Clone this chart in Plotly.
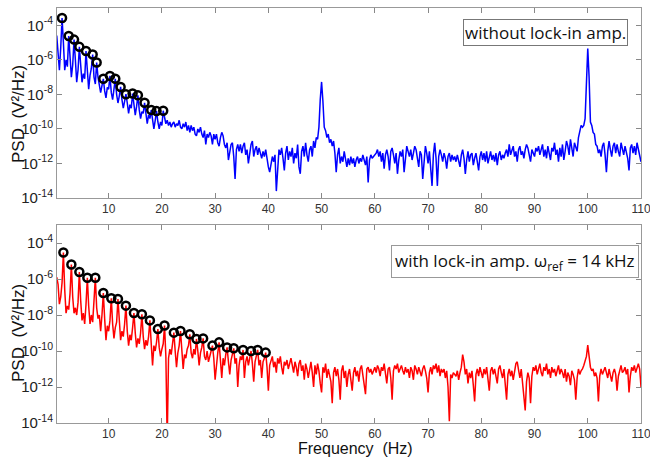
import numpy as np
import plotly.graph_objects as go

# frequency grid (Hz): 0.25 Hz resolution, 0.25 .. 110
freq_step = 0.25
n_points = 440
freq = np.arange(1, n_points + 1) * freq_step

# log10 of PSD (V^2/Hz) without lock-in amplifier (blue)
blue_log_psd = [
    -4.6, -5.6, -6.6, -5.3, -3.58, -5.0, -6.6, -6.0, -6.4, -4.62, -6.2, -7.0, -6.3, -4.83, -6.0, -7.3, -6.6, -5.25, -6.3, -7.3,
    -6.8, -7.1, -5.49, -6.7, -7.7, -6.9, -6.5, -5.69, -7.0, -7.4, -6.16, -7.0, -7.6, -7.9, -7.5, -7.10, -7.8, -8.2, -7.6, -7.7,
    -6.93, -7.9, -8.3, -7.8, -7.10, -8.0, -8.5, -8.1, -7.57, -8.3, -8.8, -8.4, -7.99, -8.5, -9.1, -8.6, -8.8, -7.95, -8.8, -9.2,
    -8.7, -8.05, -8.9, -9.4, -9.0, -9.1, -8.49, -9.2, -9.7, -9.2, -9.4, -8.91, -9.6, -10.0, -9.5, -8.97, -9.6, -10.0, -9.6, -9.8,
    -8.95, -9.4, -9.7, -9.5, -9.8, -9.6, -9.9, -9.7, -9.6, -9.9, -9.7, -9.8, -9.5, -9.9, -10.0, -9.7, -9.9, -9.6, -10.1, -9.8,
    -10.2, -9.8, -10.1, -9.9, -10.3, -10.4, -10.0, -10.2, -9.9, -10.3, -10.5, -10.1, -10.9, -10.3, -10.5, -10.2, -10.4, -10.9, -10.3, -10.6,
    -10.3, -10.8, -11.0, -10.5, -10.2, -10.4, -10.9, -11.1, -10.8, -11.8, -11.3, -10.9, -10.8, -11.6, -12.9, -11.2, -10.9, -11.3, -10.9, -11.4,
    -11.0, -10.8, -11.5, -11.2, -12.0, -11.4, -10.9, -10.7, -11.6, -11.2, -11.0, -11.5, -11.1, -11.4, -11.7, -11.3, -11.6, -11.2, -11.8, -12.2,
    -12.5, -11.9, -11.6, -11.9, -11.5, -13.6, -12.0, -11.2, -11.5, -11.1, -11.7, -12.4, -11.4, -11.0, -11.8, -11.3, -11.6, -11.1, -12.0, -11.4,
    -11.7, -10.9, -12.2, -12.6, -11.3, -11.0, -11.6, -10.8, -11.5, -11.9, -11.2, -11.0, -11.6, -10.7, -11.1, -10.5, -10.6, -9.9, -8.3, -7.28,
    -8.4, -9.9, -10.1, -10.5, -10.3, -10.8, -10.6, -11.0, -10.7, -11.4, -12.5, -11.5, -11.1, -12.0, -11.6, -11.9, -11.3, -11.8, -12.2, -11.7,
    -12.1, -11.6, -12.0, -11.7, -12.2, -11.8, -11.6, -12.0, -11.7, -11.9, -11.5, -11.8, -12.1, -11.6, -13.1, -11.8, -11.5, -11.7, -11.6, -11.5,
    -11.4, -11.2, -11.6, -11.3, -11.9, -11.4, -12.3, -11.5, -11.2, -11.6, -12.4, -11.3, -11.1, -11.5, -12.0, -11.4, -12.6, -11.8, -11.3, -11.6,
    -11.2, -12.5, -11.5, -11.0, -11.3, -11.6, -11.2, -11.8, -11.4, -11.0, -11.2, -11.7, -12.2, -11.3, -11.5, -12.9, -11.6, -11.0, -11.4, -12.0,
    -11.3, -12.2, -13.3, -11.5, -10.8, -11.7, -13.3, -11.6, -11.2, -11.5, -11.9, -11.4, -11.7, -12.3, -11.6, -11.4, -11.9, -11.5, -11.8, -11.6,
    -11.9, -11.5, -11.8, -12.2, -11.5, -11.2, -11.7, -12.6, -11.8, -11.3, -11.9, -11.5, -11.4, -12.1, -11.7, -11.4, -11.9, -12.4, -11.6, -11.3,
    -11.8, -11.4, -11.9, -11.3, -12.0, -11.6, -11.3, -11.8, -11.5, -11.9, -11.4, -12.1, -11.5, -11.3, -11.8, -11.5, -11.7, -11.4, -11.2, -11.6,
    -10.9, -11.5, -11.3, -11.0, -11.6, -11.3, -11.9, -11.2, -11.0, -11.5, -11.3, -11.7, -11.2, -10.9, -11.1, -11.6, -11.9, -11.2, -11.4, -11.6,
    -11.1, -11.3, -11.0, -11.5, -11.2, -10.9, -11.6, -11.2, -11.7, -11.0, -11.4, -11.8, -11.1, -11.3, -10.8, -11.5, -11.2, -11.9, -11.1, -11.6,
    -10.9, -11.8, -11.3, -10.7, -11.0, -11.5, -10.6, -11.2, -11.6, -10.8, -11.0, -11.3, -10.5, -10.1, -9.8, -9.9, -9.8, -9.4, -7.0, -5.35,
    -7.0, -9.6, -9.8, -10.2, -10.3, -10.9, -11.0, -11.4, -11.2, -11.6, -11.0, -10.8, -11.5, -12.5, -11.3, -10.7, -11.2, -11.6, -11.0, -10.8,
    -11.4, -10.9, -11.3, -11.6, -10.8, -11.2, -11.5, -11.0, -11.3, -11.7, -12.4, -11.1, -10.9, -11.4, -11.0, -11.5, -10.8, -11.2, -11.6, -11.9,
]

# log10 of PSD (V^2/Hz) with lock-in amplifier (red)
red_log_psd = [
    -5.9, -6.3, -7.4, -7.0, -6.2, -4.53, -6.6, -7.9, -7.5, -7.7, -6.8, -5.19, -7.0, -7.9, -7.6, -8.0, -7.3, -5.61, -7.2, -8.3,
    -7.9, -8.5, -7.4, -5.93, -7.5, -8.5, -8.0, -8.4, -7.2, -5.93, -7.6, -8.2, -8.0, -8.9, -8.0, -6.78, -8.2, -9.4, -8.6, -8.9,
    -8.3, -7.07, -8.5, -9.3, -8.7, -8.4, -7.11, -8.6, -9.4, -8.9, -9.2, -8.5, -7.48, -8.9, -9.7, -9.1, -9.4, -8.7, -7.89, -9.0,
    -9.8, -9.3, -9.6, -9.0, -7.96, -9.2, -9.9, -9.4, -9.7, -9.2, -8.30, -9.6, -10.8, -9.7, -10.0, -9.5, -8.78, -9.8, -10.3, -9.9,
    -9.6, -8.58, -10.3, -15.0, -10.4, -9.9, -10.2, -9.6, -8.98, -10.0, -10.9, -10.1, -9.7, -8.89, -10.0, -11.0, -10.2, -10.4, -9.9, -9.7,
    -9.07, -10.1, -10.4, -9.9, -10.2, -9.33, -10.0, -10.8, -10.1, -9.8, -9.30, -10.3, -10.5, -10.0, -10.6, -10.2, -10.0, -9.70, -10.4, -11.6,
    -10.6, -10.1, -9.52, -10.5, -11.5, -10.4, -10.8, -10.2, -9.80, -10.6, -11.3, -10.5, -10.2, -9.85, -10.7, -10.4, -12.0, -10.8, -10.3, -10.5,
    -9.94, -11.5, -10.6, -10.3, -10.8, -10.4, -10.0, -10.7, -11.7, -10.6, -10.3, -9.94, -10.8, -10.5, -11.5, -10.6, -10.4, -10.09, -10.9, -12.2,
    -10.8, -10.5, -10.3, -10.9, -10.6, -11.2, -10.4, -10.7, -10.3, -10.9, -11.3, -10.6, -10.8, -10.5, -11.0, -10.7, -10.4, -10.8, -11.2, -10.6,
    -10.9, -11.4, -10.7, -10.5, -11.1, -10.8, -11.6, -10.7, -11.0, -11.5, -10.9, -10.6, -11.2, -12.0, -10.8, -11.3, -10.7, -11.1, -11.8, -12.3,
    -10.9, -11.2, -10.7, -11.5, -11.0, -11.3, -11.7, -12.9, -11.2, -10.9, -11.4, -11.0, -11.6, -12.7, -11.1, -10.8, -11.5, -11.1, -12.0, -11.3,
    -11.0, -11.6, -12.2, -11.2, -10.9, -11.4, -11.1, -11.7, -11.0, -10.8, -11.3, -11.9, -12.4, -11.0, -10.9, -11.2, -11.0, -11.3, -11.1, -10.9,
    -11.2, -10.8, -11.0, -11.4, -10.9, -11.1, -10.7, -11.3, -11.8, -11.0, -10.9, -11.5, -12.7, -11.1, -10.8, -11.0, -10.7, -11.2, -11.0, -10.8,
    -11.1, -11.3, -10.9, -11.2, -11.0, -11.5, -10.9, -11.1, -11.6, -10.8, -11.0, -11.3, -10.9, -11.2, -11.4, -11.0, -10.8, -11.1, -11.5, -12.3,
    -11.2, -10.9, -11.3, -10.8, -11.0, -10.7, -11.2, -10.8, -11.4, -11.0, -11.2, -11.0, -11.5, -11.1, -12.0, -13.9, -11.3, -11.5, -11.2, -11.3,
    -11.4, -11.1, -11.6, -11.2, -10.9, -10.2, -10.6, -11.3, -11.0, -11.8, -11.2, -11.5, -11.1, -11.9, -12.8, -11.3, -11.0, -11.4, -10.9, -11.2,
    -11.5, -11.0, -11.3, -10.9, -11.6, -12.2, -11.1, -10.9, -11.3, -11.0, -11.4, -11.8, -11.0, -10.8, -11.2, -11.5, -11.0, -11.9, -12.7, -11.3,
    -11.0, -11.4, -11.1, -11.6, -11.0, -10.7, -10.6, -11.2, -11.5, -11.0, -11.8, -12.3, -13.3, -11.7, -11.2, -11.5, -12.9, -11.4, -10.9, -11.1,
    -10.8, -11.3, -11.0, -10.7, -11.2, -11.4, -10.9, -11.1, -10.7, -11.3, -11.0, -11.5, -10.9, -11.2, -11.0, -11.4, -11.1, -10.8, -11.3, -11.0,
    -11.2, -11.5, -11.0, -11.7, -11.2, -11.4, -11.9, -11.1, -11.3, -11.6, -12.7, -11.5, -11.0, -11.3, -11.1, -11.0, -10.8, -10.6, -10.3, -9.67,
    -10.4, -10.9, -11.1, -11.0, -11.4, -11.2, -11.5, -12.8, -11.4, -11.0, -11.3, -11.1, -10.9, -11.2, -11.5, -11.0, -11.3, -11.7, -11.2, -11.0,
    -11.3, -12.2, -11.4, -11.0, -10.8, -11.2, -11.1, -10.9, -11.3, -11.0, -12.3, -11.4, -10.9, -11.1, -10.8, -11.2, -11.0, -10.7, -11.0, -12.0,
]

# harmonic peaks marked with circles (frequency in Hz, log10 PSD)
blue_peak_freq = [1.25, 2.5, 3.5, 4.5, 5.75, 7.0, 7.75, 9.0, 10.25, 11.25, 12.25, 13.25, 14.5, 15.5, 16.75, 18.0, 19.0, 20.25]
blue_peak_log = [-3.58, -4.62, -4.83, -5.25, -5.49, -5.69, -6.16, -7.10, -6.93, -7.10, -7.57, -7.99, -7.95, -8.05, -8.49, -8.91, -8.97, -8.95]

red_peak_freq = [1.5, 3.0, 4.5, 6.0, 7.5, 9.0, 10.5, 11.75, 13.25, 14.75, 16.25, 17.75, 19.25, 20.5,
                 22.25, 23.5, 25.25, 26.5, 27.75, 29.5, 30.75, 32.25, 33.5, 35.25, 36.75, 38.0, 39.5]
red_peak_log = [-4.53, -5.19, -5.61, -5.93, -5.93, -6.78, -7.07, -7.11, -7.48, -7.89, -7.96, -8.30, -8.78, -8.58,
                -8.98, -8.89, -9.07, -9.33, -9.30, -9.70, -9.52, -9.80, -9.85, -9.94, -10.0, -9.94, -10.09]

x_ticks = [10, 20, 30, 40, 50, 60, 70, 80, 90, 100, 110]
y_tick_exps = [-14, -12, -10, -8, -6, -4]

label_top = "without lock-in amp."
label_bottom = "with lock-in amp. ω<sub>ref</sub> = 14 kHz"

def p(vals):
    return 10.0 ** np.asarray(vals, dtype=float)

marker_style = dict(symbol="circle-open", size=8, color="black", line=dict(width=2.5, color="black"))

fig = go.Figure()
fig.add_trace(go.Scatter(x=freq, y=p(blue_log_psd), mode="lines",
                         line=dict(color="#0000FF", width=1.5), xaxis="x", yaxis="y", showlegend=False))
fig.add_trace(go.Scatter(x=blue_peak_freq, y=p(blue_peak_log), mode="markers",
                         marker=marker_style, xaxis="x", yaxis="y", showlegend=False))
fig.add_trace(go.Scatter(x=freq, y=p(red_log_psd), mode="lines",
                         line=dict(color="#FF0000", width=1.5), xaxis="x2", yaxis="y2", showlegend=False))
fig.add_trace(go.Scatter(x=red_peak_freq, y=p(red_peak_log), mode="markers",
                         marker=marker_style, xaxis="x2", yaxis="y2", showlegend=False))

L, R, T, B = 57, 9, 8, 35
W, H = 650, 458
ph = H - T - B
top_dom = [(H - B - 198) / ph, 1.0]
bot_dom = [0.0, (H - B - 225) / ph]

tick_font = dict(family="Arial, Liberation Sans, sans-serif", size=12, color="#333333")
ytick_font = dict(family="Arial, Liberation Sans, sans-serif", size=15, color="#222222")
ytext = ["10<sup>%d</sup>" % e for e in y_tick_exps]
yvals = [10.0 ** e for e in y_tick_exps]

xcommon = dict(range=[0.3, 110], tickvals=x_ticks, ticks="inside", ticklen=5, tickcolor="#888888",
               showline=True, linecolor="#999999", linewidth=1, mirror="ticks", showgrid=False,
               zeroline=False, tickfont=tick_font, automargin=False, ticklabeloverflow="allow")
ycommon = dict(type="log", range=[-14, -3], tickvals=yvals, ticktext=ytext, ticks="inside", ticklen=5,
               tickcolor="#888888", showline=True, linecolor="#999999", linewidth=1, mirror="ticks",
               showgrid=False, zeroline=False, tickfont=ytick_font, automargin=False, ticklabeloverflow="allow")

fig.update_layout(
    width=W, height=H, margin=dict(l=L, r=R, t=T, b=B, autoexpand=False),
    paper_bgcolor="white", plot_bgcolor="white",
    xaxis=dict(domain=[0, 1], anchor="y", **xcommon),
    yaxis=dict(domain=top_dom, anchor="x", **ycommon),
    xaxis2=dict(domain=[0, 1], anchor="y2", **xcommon),
    yaxis2=dict(domain=bot_dom, anchor="x2", **ycommon),
)

pw = W - L - R
def px_x(xp):
    return (xp - L) / pw
def px_y(yp):
    return (H - B - yp) / ph

def note(text, xp, yp, **kw):
    fig.add_annotation(text=text, xref="paper", yref="paper", x=px_x(xp), y=px_y(yp),
                       xanchor="center", yanchor="middle", showarrow=False, **kw)

title_font = dict(family="Arial, Liberation Sans, sans-serif", size=17, color="#111111")
note("PSD  (V²/Hz)", 18, 114, textangle=-90, font=title_font)
note("PSD  (V²/Hz)", 18, 333, textangle=-90, font=title_font)
note("Frequency  (Hz)", 355, 448, font=dict(family="Arial, Liberation Sans, sans-serif", size=16, color="#111111"))

box_font = dict(family="Open Sans, Noto Sans, sans-serif", size=17, color="#111111")
note(label_top, 545, 33, font=box_font, bordercolor="#777777", borderwidth=1, bgcolor="white", borderpad=1)
note(label_bottom, 515, 261, font=box_font, bordercolor="#999999", borderwidth=1, bgcolor="white", borderpad=3)

fig.write_html("out.html", config={"displayModeBar": False},
               post_script="document.body.style.margin='0px';")
